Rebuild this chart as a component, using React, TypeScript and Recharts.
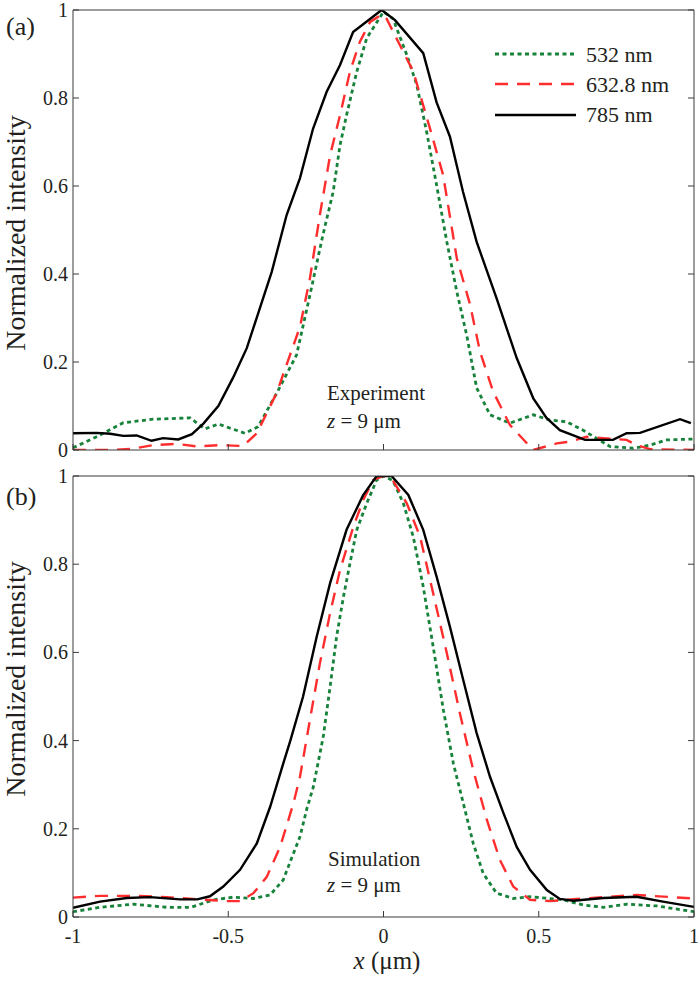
import React from 'react';
import { LineChart, Line, XAxis, YAxis } from 'recharts';

const FONT = '"Liberation Serif", "Times New Roman", Times, serif';
const AXIS = '#3a3a3a';
const TXT = '#231f20';
const TL = 6;

const xTicks = [-1, -0.5, 0, 0.5, 1];
const yTicks = [0, 0.2, 0.4, 0.6, 0.8, 1];
const seriesNames = ['532 nm', '632.8 nm', '785 nm'];
const colors = ['#17823a', '#ff2d2d', '#000000'];
const dashes = ['4 3.5', '13 9', undefined];

// Panel (a): experiment
const exp532 = [
  { x: -1, y: 0.005 }, { x: -0.924, y: 0.03 }, { x: -0.838, y: 0.062 }, { x: -0.742, y: 0.07 },
  { x: -0.623, y: 0.073 }, { x: -0.575, y: 0.048 }, { x: -0.532, y: 0.059 }, { x: -0.446, y: 0.038 },
  { x: -0.404, y: 0.053 }, { x: -0.344, y: 0.129 }, { x: -0.28, y: 0.216 }, { x: -0.237, y: 0.352 },
  { x: -0.195, y: 0.489 }, { x: -0.162, y: 0.587 }, { x: -0.14, y: 0.693 }, { x: -0.119, y: 0.761 },
  { x: -0.086, y: 0.86 }, { x: -0.054, y: 0.936 }, { x: 0, y: 0.996 }, { x: 0.031, y: 0.98 },
  { x: 0.075, y: 0.898 }, { x: 0.107, y: 0.83 }, { x: 0.139, y: 0.723 }, { x: 0.171, y: 0.602 },
  { x: 0.204, y: 0.473 }, { x: 0.236, y: 0.36 }, { x: 0.268, y: 0.261 }, { x: 0.3, y: 0.141 },
  { x: 0.343, y: 0.08 }, { x: 0.407, y: 0.061 }, { x: 0.482, y: 0.08 }, { x: 0.536, y: 0.068 },
  { x: 0.59, y: 0.064 }, { x: 0.643, y: 0.045 }, { x: 0.729, y: 0.008 }, { x: 0.804, y: 0.004 },
  { x: 0.858, y: 0.011 }, { x: 0.912, y: 0.023 }, { x: 1, y: 0.025 },
];
const exp633 = [
  { x: -1, y: 0 }, { x: -0.88, y: 0 }, { x: -0.806, y: 0.003 }, { x: -0.742, y: 0.011 },
  { x: -0.666, y: 0.014 }, { x: -0.6, y: 0.008 }, { x: -0.527, y: 0.011 }, { x: -0.452, y: 0.009 },
  { x: -0.408, y: 0.038 }, { x: -0.344, y: 0.13 }, { x: -0.269, y: 0.28 }, { x: -0.237, y: 0.39 },
  { x: -0.205, y: 0.534 }, { x: -0.172, y: 0.67 }, { x: -0.14, y: 0.761 }, { x: -0.108, y: 0.86 },
  { x: -0.076, y: 0.928 }, { x: -0.043, y: 0.973 }, { x: -0.006, y: 0.99 }, { x: 0.01, y: 0.98 },
  { x: 0.053, y: 0.92 }, { x: 0.096, y: 0.86 }, { x: 0.15, y: 0.73 }, { x: 0.192, y: 0.625 },
  { x: 0.236, y: 0.436 }, { x: 0.279, y: 0.33 }, { x: 0.311, y: 0.223 }, { x: 0.353, y: 0.133 },
  { x: 0.407, y: 0.057 }, { x: 0.461, y: 0.016 }, { x: 0.482, y: 0 }, { x: 0.558, y: 0.015 },
  { x: 0.6, y: 0.019 }, { x: 0.654, y: 0.03 }, { x: 0.707, y: 0.027 }, { x: 0.783, y: 0.023 },
  { x: 0.815, y: 0.011 }, { x: 0.858, y: 0.002 }, { x: 1, y: 0 },
];
const exp785 = [
  { x: -1, y: 0.038 }, { x: -0.924, y: 0.039 }, { x: -0.88, y: 0.037 }, { x: -0.838, y: 0.032 },
  { x: -0.795, y: 0.033 }, { x: -0.747, y: 0.021 }, { x: -0.71, y: 0.027 }, { x: -0.661, y: 0.024 },
  { x: -0.617, y: 0.036 }, { x: -0.58, y: 0.06 }, { x: -0.532, y: 0.1 }, { x: -0.484, y: 0.165 },
  { x: -0.44, y: 0.232 }, { x: -0.36, y: 0.405 }, { x: -0.312, y: 0.534 }, { x: -0.269, y: 0.618 },
  { x: -0.227, y: 0.73 }, { x: -0.183, y: 0.814 }, { x: -0.14, y: 0.875 }, { x: -0.098, y: 0.95 },
  { x: -0.006, y: 1 }, { x: 0.037, y: 0.977 }, { x: 0.128, y: 0.902 }, { x: 0.171, y: 0.79 },
  { x: 0.214, y: 0.712 }, { x: 0.256, y: 0.587 }, { x: 0.3, y: 0.473 }, { x: 0.364, y: 0.345 },
  { x: 0.429, y: 0.209 }, { x: 0.482, y: 0.118 }, { x: 0.525, y: 0.073 }, { x: 0.568, y: 0.045 },
  { x: 0.649, y: 0.023 }, { x: 0.739, y: 0.023 }, { x: 0.783, y: 0.038 }, { x: 0.826, y: 0.039 },
  { x: 0.955, y: 0.07 }, { x: 0.99, y: 0.061 },
];

// Panel (b): simulation
const sim532 = [
  { x: -1, y: 0.012 }, { x: -0.913, y: 0.022 }, { x: -0.806, y: 0.029 }, { x: -0.698, y: 0.022 },
  { x: -0.62, y: 0.022 }, { x: -0.548, y: 0.039 }, { x: -0.484, y: 0.045 }, { x: -0.419, y: 0.042 },
  { x: -0.365, y: 0.05 }, { x: -0.323, y: 0.084 }, { x: -0.29, y: 0.144 }, { x: -0.269, y: 0.182 },
  { x: -0.247, y: 0.245 }, { x: -0.226, y: 0.295 }, { x: -0.194, y: 0.409 }, { x: -0.172, y: 0.522 },
  { x: -0.151, y: 0.636 }, { x: -0.129, y: 0.726 }, { x: -0.108, y: 0.802 }, { x: -0.086, y: 0.878 },
  { x: -0.054, y: 0.938 }, { x: -0.022, y: 0.991 }, { x: 0, y: 1 }, { x: 0.03, y: 0.99 },
  { x: 0.064, y: 0.938 }, { x: 0.096, y: 0.862 }, { x: 0.128, y: 0.749 }, { x: 0.16, y: 0.613 },
  { x: 0.193, y: 0.469 }, { x: 0.225, y: 0.348 }, { x: 0.257, y: 0.258 }, { x: 0.289, y: 0.167 },
  { x: 0.321, y: 0.099 }, { x: 0.364, y: 0.054 }, { x: 0.418, y: 0.042 }, { x: 0.472, y: 0.046 },
  { x: 0.579, y: 0.039 }, { x: 0.644, y: 0.027 }, { x: 0.708, y: 0.022 }, { x: 0.783, y: 0.029 },
  { x: 0.88, y: 0.025 }, { x: 1, y: 0.012 },
];
const sim633 = [
  { x: -1, y: 0.044 }, { x: -0.913, y: 0.048 }, { x: -0.806, y: 0.048 }, { x: -0.698, y: 0.045 },
  { x: -0.591, y: 0.04 }, { x: -0.505, y: 0.036 }, { x: -0.462, y: 0.036 }, { x: -0.419, y: 0.054 },
  { x: -0.376, y: 0.091 }, { x: -0.333, y: 0.159 }, { x: -0.29, y: 0.258 }, { x: -0.269, y: 0.318 },
  { x: -0.237, y: 0.447 }, { x: -0.205, y: 0.575 }, { x: -0.172, y: 0.689 }, { x: -0.14, y: 0.787 },
  { x: -0.097, y: 0.885 }, { x: -0.065, y: 0.946 }, { x: -0.033, y: 0.991 }, { x: 0, y: 1 },
  { x: 0.03, y: 0.99 }, { x: 0.075, y: 0.938 }, { x: 0.118, y: 0.862 }, { x: 0.16, y: 0.734 },
  { x: 0.204, y: 0.598 }, { x: 0.246, y: 0.462 }, { x: 0.289, y: 0.333 }, { x: 0.333, y: 0.22 },
  { x: 0.375, y: 0.129 }, { x: 0.418, y: 0.069 }, { x: 0.472, y: 0.039 }, { x: 0.536, y: 0.036 },
  { x: 0.644, y: 0.042 }, { x: 0.815, y: 0.05 }, { x: 1, y: 0.042 },
];
const sim785 = [
  { x: -1, y: 0.021 }, { x: -0.913, y: 0.035 }, { x: -0.827, y: 0.043 }, { x: -0.752, y: 0.045 },
  { x: -0.655, y: 0.04 }, { x: -0.6, y: 0.04 }, { x: -0.559, y: 0.047 }, { x: -0.516, y: 0.069 },
  { x: -0.462, y: 0.107 }, { x: -0.408, y: 0.167 }, { x: -0.365, y: 0.25 }, { x: -0.323, y: 0.348 },
  { x: -0.3, y: 0.4 }, { x: -0.259, y: 0.5 }, { x: -0.215, y: 0.636 }, { x: -0.172, y: 0.757 },
  { x: -0.119, y: 0.878 }, { x: -0.066, y: 0.956 }, { x: -0.022, y: 1 }, { x: 0.026, y: 1 },
  { x: 0.08, y: 0.957 }, { x: 0.128, y: 0.878 }, { x: 0.171, y: 0.772 }, { x: 0.214, y: 0.658 },
  { x: 0.257, y: 0.537 }, { x: 0.3, y: 0.417 }, { x: 0.343, y: 0.318 }, { x: 0.386, y: 0.236 },
  { x: 0.429, y: 0.159 }, { x: 0.472, y: 0.107 }, { x: 0.526, y: 0.061 }, { x: 0.568, y: 0.041 },
  { x: 0.611, y: 0.037 }, { x: 0.708, y: 0.043 }, { x: 0.815, y: 0.046 }, { x: 0.9, y: 0.035 },
  { x: 1, y: 0.023 },
];

const LeftTick = (props: any) => {
  const { x, y, payload } = props;
  const edge = x + 5;
  return (
    <g>
      <line x1={edge} x2={edge + TL} y1={y} y2={y} stroke={AXIS} strokeWidth={1} />
      <text x={x} y={y} dy={7} textAnchor="end" fontSize={20} fontFamily={FONT} fill={TXT}>
        {String(payload.value)}
      </text>
    </g>
  );
};

const RightTick = (props: any) => {
  const { x, y } = props;
  return <line x1={x} x2={x - TL} y1={y} y2={y} stroke={AXIS} strokeWidth={1} />;
};

const TopTick = (props: any) => {
  const { x, y } = props;
  return <line x1={x} x2={x} y1={y} y2={y + TL} stroke={AXIS} strokeWidth={1} />;
};

const makeBottomTick = (showLabel: boolean) => (props: any) => {
  const { x, y, payload } = props;
  const edge = y - 4;
  return (
    <g>
      <line x1={x} x2={x} y1={edge} y2={edge - TL} stroke={AXIS} strokeWidth={1} />
      {showLabel && (
        <text x={x} y={edge + 26} textAnchor="middle" fontSize={20} fontFamily={FONT} fill={TXT}>
          {String(payload.value)}
        </text>
      )}
    </g>
  );
};

const BottomTickNoLabel = makeBottomTick(false);
const BottomTickLabel = makeBottomTick(true);

function Panel({ series, height, bottomAxisHeight, bottomMargin, showXLabels }: any) {
  return (
    <LineChart
      width={700}
      height={height}
      margin={{ top: 9, right: 5, left: 13, bottom: bottomMargin }}
    >
      <XAxis
        dataKey="x"
        type="number"
        domain={[-1, 1]}
        ticks={xTicks}
        allowDataOverflow
        height={bottomAxisHeight}
        tickSize={0}
        tickMargin={4}
        tickLine={false}
        axisLine={{ stroke: AXIS, strokeWidth: 1 }}
        tick={showXLabels ? BottomTickLabel : BottomTickNoLabel}
        interval={0}
      />
      <XAxis
        xAxisId="top"
        orientation="top"
        type="number"
        domain={[-1, 1]}
        ticks={xTicks}
        allowDataOverflow
        height={1}
        tickSize={0}
        tickMargin={0}
        tickLine={false}
        axisLine={{ stroke: AXIS, strokeWidth: 1 }}
        tick={TopTick}
        interval={0}
      />
      <YAxis
        type="number"
        domain={[0, 1]}
        ticks={yTicks}
        allowDataOverflow
        width={60}
        tickSize={0}
        tickMargin={5}
        tickLine={false}
        axisLine={{ stroke: AXIS, strokeWidth: 1 }}
        tick={LeftTick}
        interval={0}
      />
      <YAxis
        yAxisId="right"
        orientation="right"
        type="number"
        domain={[0, 1]}
        ticks={yTicks}
        allowDataOverflow
        width={1}
        tickSize={0}
        tickMargin={0}
        tickLine={false}
        axisLine={{ stroke: AXIS, strokeWidth: 1 }}
        tick={RightTick}
        interval={0}
      />
      {series.map((d: any, i: number) => (
        <Line
          key={seriesNames[i]}
          name={seriesNames[i]}
          data={d}
          dataKey="y"
          type="linear"
          stroke={colors[i]}
          strokeWidth={i === 0 ? 2.8 : 2.4}
          strokeDasharray={dashes[i]}
          dot={false}
          activeDot={false}
          isAnimationActive={false}
        />
      ))}
    </LineChart>
  );
}

const legendRows = [
  { lineY: 54, textY: 62 },
  { lineY: 84, textY: 92 },
  { lineY: 115, textY: 122 },
];

export default function App() {
  return (
    <div style={{ position: 'absolute', left: 0, top: 0, width: 700, height: 981, background: '#fff' }}>
      <div style={{ position: 'absolute', left: 0, top: 0 }}>
        <Panel series={[exp532, exp633, exp785]} height={465} bottomAxisHeight={5} bottomMargin={10} showXLabels={false} />
      </div>
      <div style={{ position: 'absolute', left: 0, top: 466 }}>
        <Panel series={[sim532, sim633, sim785]} height={515} bottomAxisHeight={50} bottomMargin={14} showXLabels={true} />
      </div>
      <svg
        width={700}
        height={981}
        style={{ position: 'absolute', left: 0, top: 0, pointerEvents: 'none' }}
        fontFamily={FONT}
        fill={TXT}
      >
        <text x={6} y={35} fontSize={26}>(a)</text>
        <text x={6} y={505} fontSize={26}>(b)</text>
        <text x={25} y={233} fontSize={28} textAnchor="middle" transform="rotate(-90 25 233)">Normalized intensity</text>
        <text x={25} y={679} fontSize={28} textAnchor="middle" transform="rotate(-90 25 679)">Normalized intensity</text>

        <text x={327} y={400} fontSize={21}>Experiment</text>
        <text x={327} y={428} fontSize={21}>
          <tspan fontStyle="italic">z</tspan> = 9 μm
        </text>
        <text x={328} y={866} fontSize={21}>Simulation</text>
        <text x={327} y={892} fontSize={21}>
          <tspan fontStyle="italic">z</tspan> = 9 μm
        </text>

        <text x={387} y={969} fontSize={25} textAnchor="middle">
          <tspan fontStyle="italic">x</tspan> (μm)
        </text>

        {legendRows.map((r, i) => (
          <g key={seriesNames[i]}>
            <line
              x1={495}
              x2={576}
              y1={r.lineY}
              y2={r.lineY}
              stroke={colors[i]}
              strokeWidth={i === 0 ? 2.8 : 2.4}
              strokeDasharray={dashes[i]}
            />
            <text x={586} y={r.textY} fontSize={22}>{seriesNames[i]}</text>
          </g>
        ))}
      </svg>
    </div>
  );
}
